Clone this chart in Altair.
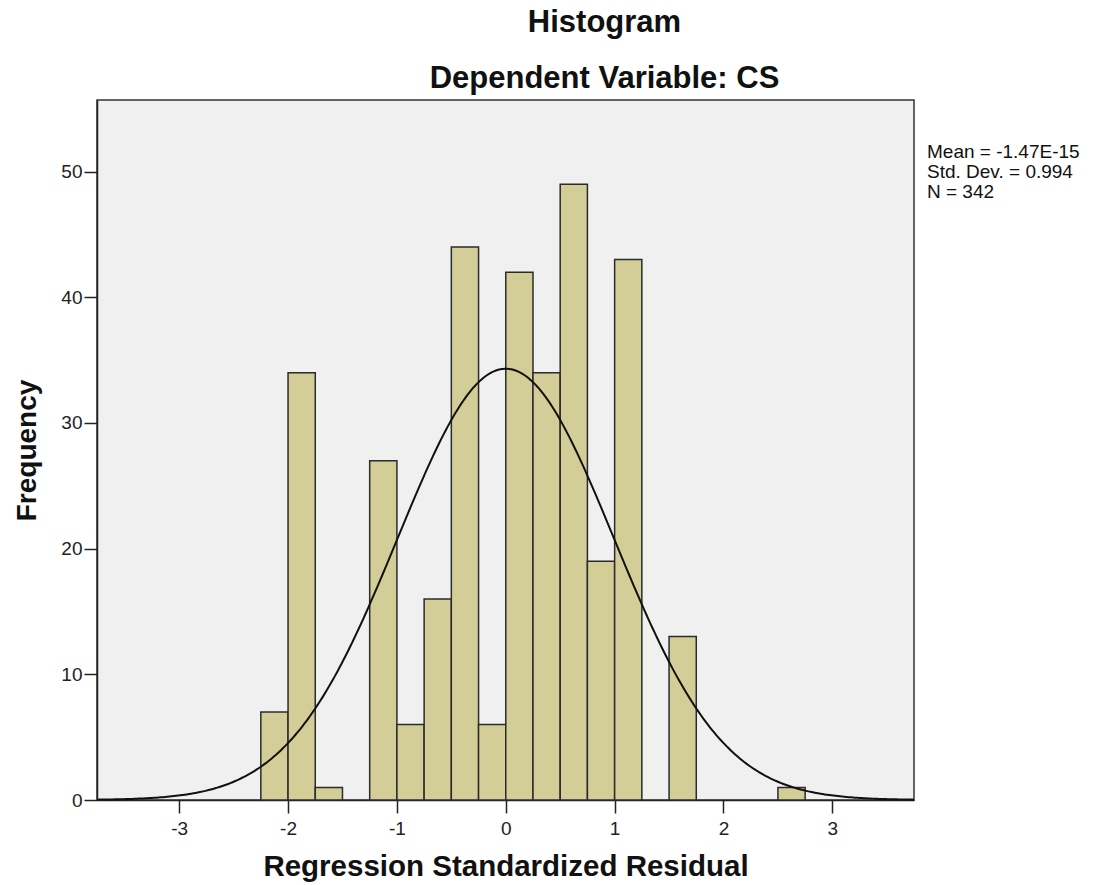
import altair as alt
import pandas as pd

# Histogram bins (width 0.25) and counts
bin_start = [-2.25, -2.0, -1.75, -1.25, -1.0, -0.75, -0.5, -0.25, 0.0, 0.25, 0.5, 0.75, 1.0, 1.5, 2.5]
counts = [7, 34, 1, 27, 6, 16, 44, 6, 42, 34, 49, 19, 43, 13, 1]
bin_width = 0.25

# Summary statistics shown on the chart
mean_val = -1.47e-15
sd_val = 0.994
n_val = 342
stats_lines = ["Mean = -1.47E-15", "Std. Dev. = 0.994", "N = 342"]

x_ticks = [-3, -2, -1, 0, 1, 2, 3]
y_ticks = [0, 10, 20, 30, 40, 50]

df = pd.DataFrame({
    "start": bin_start,
    "end": [b + bin_width for b in bin_start],
    "count": counts,
})

W, H = 817, 700
FONT = "Liberation Sans"

x_scale = alt.Scale(domain=[-3.755, 3.75], nice=False, zero=False)
y_scale = alt.Scale(domain=[0, 55.7], nice=False)

bars = alt.Chart(df).mark_rect(
    fill="#D3CE97", stroke="#2b2b2b", strokeWidth=1.5
).encode(
    x=alt.X("start:Q", scale=x_scale,
            axis=alt.Axis(values=x_ticks, title="Regression Standardized Residual",
                          labelExpr="'' + datum.value",
                          grid=False, tickSize=13, tickColor="#222", domainColor="#222",
                          labelFontSize=19, labelColor="#222", labelFont=FONT, labelPadding=6,
                          titleFont=FONT, titleFontSize=29.5, titleFontWeight="bold",
                          titleColor="#111", titlePadding=14, domainWidth=1.5, tickWidth=1.5)),
    x2="end:Q",
    y=alt.Y("count:Q", scale=y_scale,
            axis=alt.Axis(values=y_ticks, title="Frequency", grid=False, tickSize=13,
                          labelExpr="'' + datum.value",
                          tickColor="#222", domainColor="#222", labelFontSize=19,
                          labelColor="#222", labelFont=FONT, labelPadding=2,
                          titleFont=FONT, titleFontSize=28, titleFontWeight="bold",
                          titleColor="#111", titlePadding=19, domainWidth=1.5, tickWidth=1.5)),
    y2=alt.datum(0),
)

curve = alt.Chart(alt.sequence(-3.75, 3.76, 0.02, as_="xv")).transform_calculate(
    yv=f"{n_val}*{bin_width}/({sd_val}*sqrt(2*PI))*exp(-0.5*pow((datum.xv-({mean_val}))/{sd_val},2))"
).mark_line(color="#111", strokeWidth=2).encode(
    x=alt.X("xv:Q", scale=x_scale),
    y=alt.Y("yv:Q", scale=y_scale),
)

stats = alt.Chart(pd.DataFrame({"t": ["\n".join(stats_lines)]})).mark_text(
    align="left", baseline="top", font=FONT, fontSize=19, color="#111",
    lineBreak="\n", lineHeight=20
).encode(
    x=alt.value(W + 13),
    y=alt.value(43),
    text="t:N",
)

chart = alt.layer(bars, curve, stats).properties(
    width=W, height=H,
    title=alt.TitleParams(
        text="Histogram",
        subtitle="Dependent Variable: CS",
        font=FONT, fontSize=31, fontWeight="bold", color="#111",
        subtitleFont=FONT, subtitleFontSize=31, subtitleFontWeight="bold",
        subtitleColor="#111", subtitlePadding=25,
        anchor="middle", dx=99, offset=5,
    ),
    autosize=alt.AutoSizeParams(type="none"),
    padding={"left": 89, "top": 92, "right": 190, "bottom": 85},
    background="white",
).configure_view(
    fill="#F0F0F0", stroke="#333", strokeWidth=1.5
)

chart.save("out.html", embed_options={"renderer": "svg", "actions": False})
